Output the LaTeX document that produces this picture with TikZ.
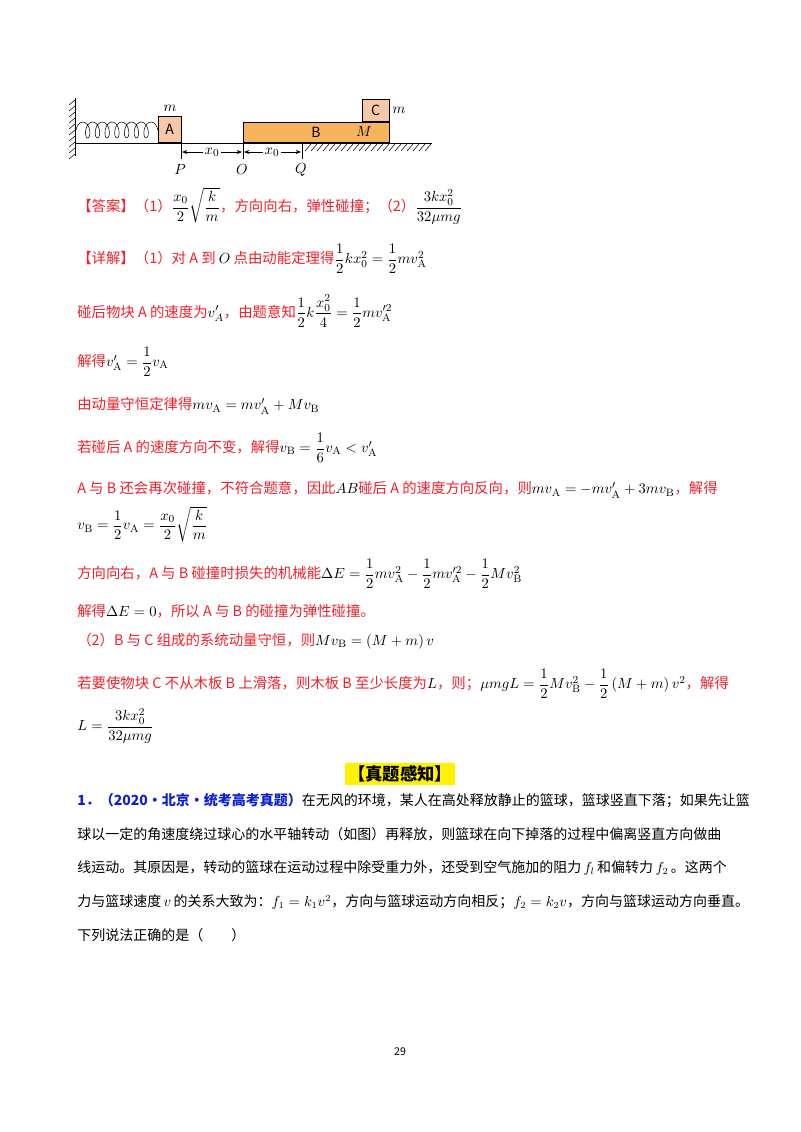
\documentclass[tikz,border=0pt]{standalone}
\usepackage{amsmath}
\usepackage[no-math]{fontspec}
\setmainfont{Noto Sans CJK SC}
\usetikzlibrary{decorations.pathmorphing,patterns,arrows.meta}
\definecolor{rd}{HTML}{F0202A}
\definecolor{bl}{HTML}{1020D0}
\definecolor{orB}{HTML}{F6B45C}
\definecolor{pkC}{HTML}{F7C8A8}
\begin{document}
\begin{tikzpicture}[x=0.75pt,y=-0.75pt,
  ln/.style={anchor=west,inner sep=0pt,font=\fontsize{10.8}{13}\selectfont},
  pl/.style={anchor=west,inner sep=0pt,font=\fontsize{10.5}{13}\selectfont},
  rl/.style={ln,text=rd},
  lab/.style={inner sep=0pt,font=\fontsize{11}{13}\selectfont}]
\useasboundingbox (0,0) rectangle (800,1132);
% ---- diagram
\draw[line width=0.7pt] (75,98) -- (75,156);
\foreach \y in {100,106,...,154} \draw (75,\y) -- (69,\y+5);
\draw (75,143) -- (432,143);
\foreach \x in {305,311,...,430} \draw (\x,151) -- (\x+6,144);
\draw[decorate,decoration={coil,aspect=0.55,segment length=7.3pt,amplitude=6pt}] (76,130) -- (158,130);
\node[draw,fill=pkC,minimum width=17pt,minimum height=20pt,inner sep=0pt,anchor=south west] (A) at (158,143) {\fontsize{10.5}{12}\selectfont A};
\node[lab] (mA) at (170,108) {$m$};
\node[draw,fill=orB,minimum width=109.5pt,minimum height=15.5pt,inner sep=0pt,anchor=south west] (B) at (243,143) {};
\node[lab] (Bl) at (316,132) {\fontsize{10.5}{12}\selectfont B};
\node[lab] (Ml) at (364,132) {$M$};
\node[draw,fill=pkC,minimum width=20pt,minimum height=17pt,inner sep=0pt,anchor=south west] (C) at (362,122) {\fontsize{10.5}{12}\selectfont C};
\node[lab] (mC) at (399,110) {$m$};
\coordinate (P) at (181,143); \coordinate (O) at (243,143); \coordinate (Q) at (302,143);
\draw (P) -- (181,159); \draw (O) -- (243,159); \draw (Q) -- (302,159);
\node[lab,fill=white,inner sep=1pt] (x1) at (212,152) {$x_0$};
\node[lab,fill=white,inner sep=1pt] (x2) at (272,152) {$x_0$};
\draw[-{Stealth[length=4pt]}] (x1) -- (182,152);
\draw[-{Stealth[length=4pt]}] (x1) -- (242,152);
\draw[-{Stealth[length=4pt]}] (x2) -- (244,152);
\draw[-{Stealth[length=4pt]}] (x2) -- (301,152);
\node[lab] (Pl) at (180,170) {$P$};
\node[lab] (Ol) at (242,170) {$O$};
\node[lab] (Ql) at (301,170) {$Q$};
% ---- solution
\node[rl] (l1) at (77,206) {【答案】（1）\textcolor{black}{$\dfrac{x_0}{2}\sqrt{\dfrac{k}{m}}$}，方向向右，弹性碰撞；（2）\textcolor{black}{$\dfrac{3kx_0^2}{32\mu mg}$}};
\node[rl] (l2) at (77,259) {【详解】（1）对 A 到 \textcolor{black}{$O$} 点由动能定理得\textcolor{black}{$\dfrac12kx_0^2=\dfrac12mv_{\rm A}^2$}};
\node[rl] (l3) at (77,311) {碰后物块 A 的速度为\textcolor{black}{$v_A'$}，由题意知\textcolor{black}{$\dfrac12k\dfrac{x_0^2}{4}=\dfrac12mv_{\rm A}'^2$}};
\node[rl] (l4) at (77,362) {解得\textcolor{black}{$v_{\rm A}'=\dfrac12v_{\rm A}$}};
\node[rl] (l5) at (77,406) {由动量守恒定律得\textcolor{black}{$mv_{\rm A}=mv_{\rm A}'+Mv_{\rm B}$}};
\node[rl] (l6) at (77,448) {若碰后 A 的速度方向不变，解得\textcolor{black}{$v_{\rm B}=\dfrac16v_{\rm A}<v_{\rm A}'$}};
\node[rl] (l7) at (77,490) {A 与 B 还会再次碰撞，不符合题意，因此\textcolor{black}{$AB$}碰后 A 的速度方向反向，则\textcolor{black}{$mv_{\rm A}=-mv_{\rm A}'+3mv_{\rm B}$}，解得};
\node[ln] (l8) at (77,524) {$v_{\rm B}=\dfrac12v_{\rm A}=\dfrac{x_0}{2}\sqrt{\dfrac{k}{m}}$};
\node[rl] (l9) at (77,574) {方向向右，A 与 B 碰撞时损失的机械能\textcolor{black}{$\Delta E=\dfrac12mv_{\rm A}^2-\dfrac12mv_{\rm A}'^2-\dfrac12Mv_{\rm B}^2$}};
\node[rl] (l10) at (77,611) {解得\textcolor{black}{$\Delta E=0$}，所以 A 与 B 的碰撞为弹性碰撞。};
\node[rl] (l11) at (77,641) {（2）B 与 C 组成的系统动量守恒，则\textcolor{black}{$Mv_{\rm B}=\left(M+m\right)v$}};
\node[rl] (l12) at (77,684) {若要使物块 C 不从木板 B 上滑落，则木板 B 至少长度为\textcolor{black}{$L$}，则；\textcolor{black}{$\mu mgL=\dfrac12Mv_{\rm B}^2-\dfrac12\left(M+m\right)v^2$}，解得};
\node[ln] (l13) at (77,726) {$L=\dfrac{3kx_0^2}{32\mu mg}$};
% ---- section title
\node[fill=yellow,inner sep=2pt,font=\fontsize{13}{15}\selectfont\bfseries] (ttl) at (400,774) {【真题感知】};
\node[pl] (p1) at (77,801) {\textcolor{bl}{\bfseries 1．（2020·北京·统考高考真题）}在无风的环境，某人在高处释放静止的篮球，篮球竖直下落；如果先让篮};
\node[pl] (p2) at (77,834) {球以一定的角速度绕过球心的水平轴转动（如图）再释放，则篮球在向下掉落的过程中偏离竖直方向做曲};
\node[pl] (p3) at (77,868) {线运动。其原因是，转动的篮球在运动过程中除受重力外，还受到空气施加的阻力\,$f_l$\,和偏转力\,$f_2$\,。这两个};
\node[pl] (p4) at (77,902) {力与篮球速度\,$v$\,的关系大致为：$f_1=k_1v^2$，方向与篮球运动方向相反；$f_2=k_2v$，方向与篮球运动方向垂直。};
\node[pl] (p5) at (77,935) {下列说法正确的是（\qquad）};
\node[lab,font=\fontsize{8}{10}\selectfont] (pg) at (400,1052) {29};
\end{tikzpicture}
\end{document}
